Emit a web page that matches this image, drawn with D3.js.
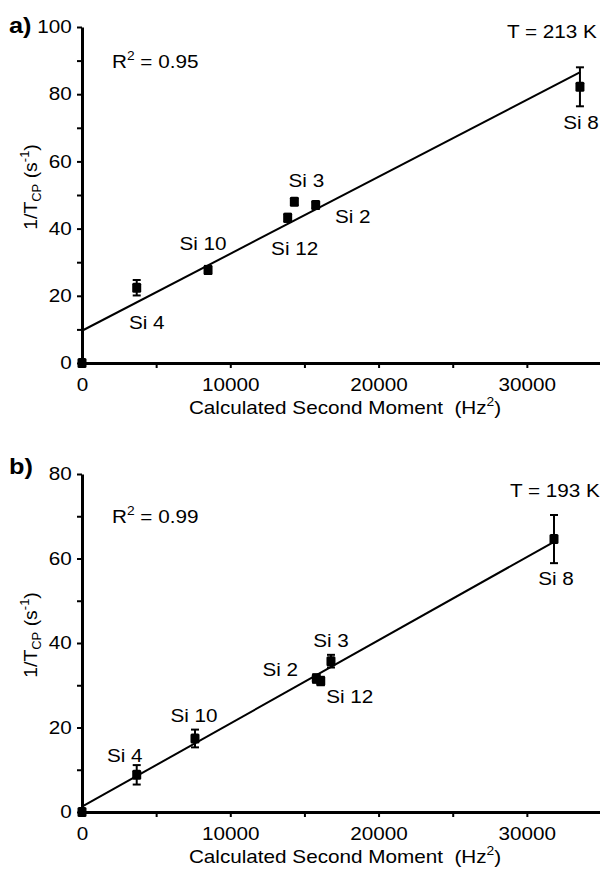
<!DOCTYPE html>
<html>
<head>
<meta charset="utf-8">
<script src="https://cdn.jsdelivr.net/npm/d3@7"></script>
<style>
  body { margin: 0; background: #fff; }
  svg text { font-family: "Liberation Sans", Arial, sans-serif; fill: #000; white-space: pre; }
</style>
</head>
<body>
<svg id="chart" width="600" height="869"></svg>
<script>
// panel a) T = 213 K
const labelsA = ["", "Si 4", "Si 10", "Si 12", "Si 3", "Si 2", "Si 8"];
const momentA = [0, 3690, 8500, 13870, 14320, 15760, 33580];
const rateA = [0, 22.4, 27.7, 43.2, 48.0, 47.0, 82.2];
const errA = [0, 2.3, 1.2, 1.2, 1.0, 1.0, 5.8];
const fitA = [9.6, 0.00229];      // intercept, slope
const fitRangeA = [0, 33600];

// panel b) T = 193 K
const labelsB = ["", "Si 4", "Si 10", "Si 2", "Si 12", "Si 3", "Si 8"];
const momentB = [0, 3690, 7620, 15800, 16100, 16790, 31830];
const rateB = [0, 8.8, 17.4, 31.6, 31.0, 35.7, 64.6];
const errB = [0, 2.3, 2.1, 1.0, 1.0, 1.5, 5.7];
const fitB = [1.25, 0.00197];
const fitRangeB = [0, 31800];

const xTicks = [0, 5000, 10000, 15000, 20000, 25000, 30000, 35000];

const svg = d3.select("#chart");
const SX = 1.15; // text in the original is a bit wider than Arial

function txt(g, x, y, anchor, size) {
  return g.append("text")
    .attr("transform", `translate(${x},${y}) scale(${SX},1)`)
    .attr("text-anchor", anchor || "start")
    .style("font-size", (size || 18) + "px");
}

function panel(opt) {
  const x = d3.scaleLinear().domain([0, 35000]).range([82, 601]);
  const y = d3.scaleLinear().domain([0, opt.yMax]).range([opt.bottom, opt.top]);
  const g = svg.append("g");

  const xAxis = g.append("g")
    .attr("transform", `translate(0,${opt.bottom})`)
    .call(d3.axisBottom(x).tickValues(xTicks).tickSize(5).tickSizeOuter(0)
      .tickFormat(d => d % 10000 === 0 ? d : ""));
  const yAxis = g.append("g")
    .attr("transform", "translate(82,0)")
    .call(d3.axisLeft(y).tickValues(d3.range(0, opt.yMax + 1, 10)).tickSize(5).tickSizeOuter(0)
      .tickFormat(d => d % 20 === 0 ? d : ""));

  [xAxis, yAxis].forEach(a => {
    a.select(".domain").attr("stroke", "#000").attr("stroke-width", 3);
    a.selectAll(".tick line").attr("stroke", "#000").attr("stroke-width", 2);
    a.selectAll(".tick text")
      .style("font-size", "18px")
      .style("font-family", "Liberation Sans, Arial, sans-serif")
      .attr("fill", "#000");
  });
  xAxis.selectAll(".tick text").attr("y", 15).attr("transform", `scale(${SX},1)`);
  yAxis.selectAll(".tick text").attr("x", -9).attr("transform", `scale(${SX},1)`);

  // fit line
  g.append("line")
    .attr("x1", x(opt.fitRange[0])).attr("y1", y(opt.fit[0] + opt.fit[1] * opt.fitRange[0]))
    .attr("x2", x(opt.fitRange[1])).attr("y2", y(opt.fit[0] + opt.fit[1] * opt.fitRange[1]))
    .attr("stroke", "#000").attr("stroke-width", 2);

  const pts = opt.labels.map((l, i) => ({ label: l, m: opt.moment[i], r: opt.rate[i], e: opt.err[i] }));

  const eb = g.selectAll(".err").data(pts.filter(d => d.e > 0)).enter().append("g")
    .attr("stroke", "#000").attr("stroke-width", 2);
  eb.append("line")
    .attr("x1", d => x(d.m)).attr("x2", d => x(d.m))
    .attr("y1", d => y(d.r - d.e)).attr("y2", d => y(d.r + d.e));
  eb.append("line")
    .attr("x1", d => x(d.m) - 4).attr("x2", d => x(d.m) + 4)
    .attr("y1", d => y(d.r + d.e)).attr("y2", d => y(d.r + d.e));
  eb.append("line")
    .attr("x1", d => x(d.m) - 4).attr("x2", d => x(d.m) + 4)
    .attr("y1", d => y(d.r - d.e)).attr("y2", d => y(d.r - d.e));

  g.selectAll(".pt").data(pts).enter().append("rect")
    .attr("x", d => x(d.m) - 4.5).attr("y", d => y(d.r) - 5)
    .attr("width", 9).attr("height", 10).attr("rx", 1.5)
    .attr("fill", "#000");

  pts.filter(d => d.label).forEach(d => {
    const o = opt.offsets[d.label];
    txt(g, x(d.m) + o[0], y(d.r) + o[1], "middle").text(d.label);
  });

  // annotations
  const r2 = txt(g, 112, opt.r2y, "start");
  r2.append("tspan").text("R");
  r2.append("tspan").attr("dy", -8).style("font-size", "12px").text("2");
  r2.append("tspan").attr("dy", 8).text(" = " + opt.r2);

  txt(g, opt.tx, opt.ty, "start").text(opt.temp);

  txt(g, 9, opt.letterY, "start", 22).style("font-weight", "bold").text(opt.letter);

  const xt = txt(g, 345, opt.bottom + 51, "middle");
  xt.append("tspan").text("Calculated Second Moment  (Hz");
  xt.append("tspan").attr("dy", -8).style("font-size", "12px").text("2");
  xt.append("tspan").attr("dy", 8).text(")");

  const yc = (opt.top + opt.bottom) / 2 - 8;
  const yt = g.append("text")
    .attr("transform", `translate(37,${yc}) rotate(-90) scale(1.08,1)`)
    .attr("text-anchor", "middle")
    .style("font-size", "18px");
  yt.append("tspan").text("1/T");
  yt.append("tspan").attr("dy", 4).style("font-size", "12px").text("CP");
  yt.append("tspan").attr("dy", -4).text(" (s");
  yt.append("tspan").attr("dy", -8).style("font-size", "12px").text("-1");
  yt.append("tspan").attr("dy", 8).text(")");
}

panel({
  top: 27, bottom: 363, yMax: 100,
  labels: labelsA, moment: momentA, rate: rateA, err: errA,
  fit: fitA, fitRange: fitRangeA,
  offsets: { "Si 4": [10, 41], "Si 10": [-5, -20], "Si 12": [7, 37], "Si 3": [12, -15], "Si 2": [37, 18], "Si 8": [1, 42] },
  r2: "0.95", r2y: 68, temp: "T = 213 K", tx: 507, ty: 38, letter: "a)", letterY: 33
});

panel({
  top: 474, bottom: 812, yMax: 80,
  labels: labelsB, moment: momentB, rate: rateB, err: errB,
  fit: fitB, fitRange: fitRangeB,
  offsets: { "Si 4": [-12, -13], "Si 10": [-1, -16], "Si 2": [-36, -2], "Si 12": [29, 22], "Si 3": [0, -14], "Si 8": [2, 46] },
  r2: "0.99", r2y: 523, temp: "T = 193 K", tx: 510, ty: 497, letter: "b)", letterY: 474
});
</script>
</body>
</html>
